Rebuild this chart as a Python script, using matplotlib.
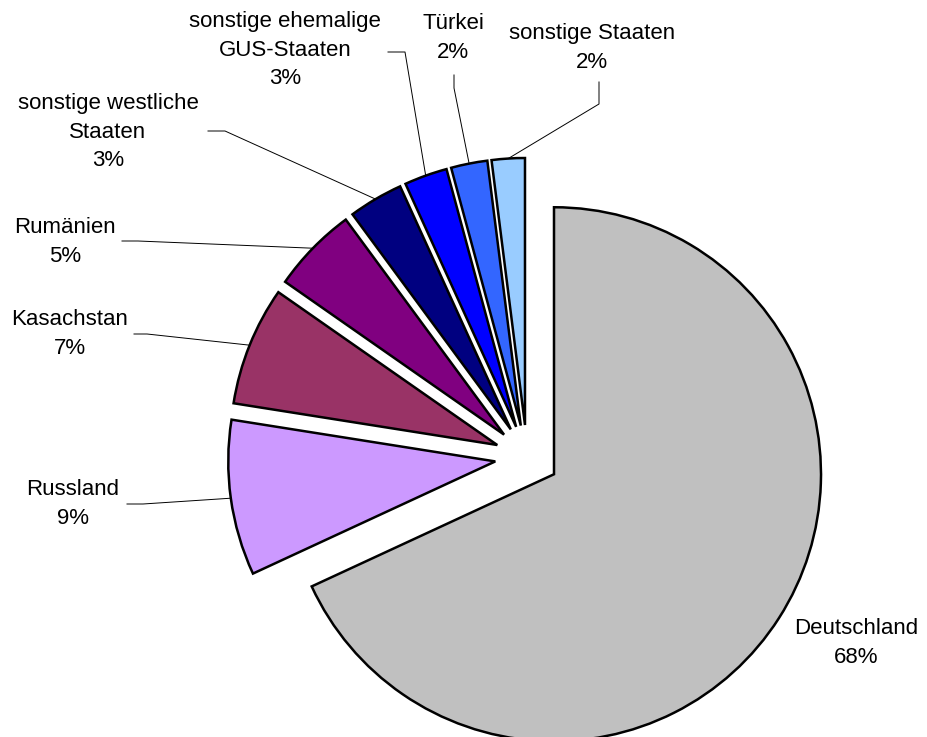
import numpy as np
import matplotlib
matplotlib.use("Agg")
import matplotlib.pyplot as plt

plt.rcParams['font.family'] = ['Liberation Sans', 'DejaVu Sans']

# Anteile in Prozent
laender = ["Deutschland", "Russland", "Kasachstan", "Rumänien",
           "sonstige westliche\nStaaten", "sonstige ehemalige\nGUS-Staaten",
           "Türkei", "sonstige Staaten"]
anteile = [68.1, 9.4, 7.2, 5.2, 3.3, 2.6, 2.2, 2.0]
farben = ["#C0C0C0", "#CC99FF", "#993366", "#800080",
          "#000080", "#0000FF", "#3366FF", "#99CCFF"]

W, H = 927, 737
CX, CY, R = 527, 457, 267   # pie centre and radius in pixels
EXPL = 0.12


def px(x, y):
    # image pixel -> data units (radius = 1)
    return (x - CX) / R, (CY - y) / R


fig = plt.figure(figsize=(W / 100, H / 100), dpi=100)
ax = fig.add_axes([0, 0, 1, 1])

wedges, _ = ax.pie(anteile, colors=farben, startangle=90, counterclock=False,
                   explode=[EXPL] * len(anteile), radius=1,
                   wedgeprops=dict(edgecolor='black', linewidth=1.8))

# pie() sets its own limits, so override afterwards
ax.set_xlim(px(0, 0)[0], px(W, 0)[0])
ax.set_ylim(px(0, H)[1], px(0, 0)[1])
ax.set_aspect('equal')
ax.axis('off')

# label text centres and leader line start / elbow (pixels)
text_pos = [(856, 643), (73, 504), (70, 334), (65, 242),
            (108, 132), (285, 50), (453, 38), (592, 48)]
leader = [None,
          [(127, 504), (143, 504)],
          [(134, 334), (147, 334)],
          [(122, 241), (138, 241)],
          [(208, 131), (225, 131)],
          [(388, 52), (405, 52)],
          [(454, 75), (454, 88)],
          [(599, 82), (599, 104)]]

prozent = [f"{round(a):d}%" for a in anteile]

for w, name, p, tp, ld in zip(wedges, laender, prozent, text_pos, leader):
    tx, ty = px(*tp)
    ax.text(tx, ty, f"{name}\n{p}", ha='center', va='center', fontsize=16,
            linespacing=1.45, color='black')
    if ld is None:
        continue
    mid = np.deg2rad((w.theta1 + w.theta2) / 2)
    ax_, ay_ = w.center[0] + np.cos(mid), w.center[1] + np.sin(mid)
    p1, p2 = px(*ld[0]), px(*ld[1])
    ax.plot([p1[0], p2[0], ax_], [p1[1], p2[1], ay_], color='black', lw=0.7)

fig.savefig("out.png", dpi=100, facecolor='white')
